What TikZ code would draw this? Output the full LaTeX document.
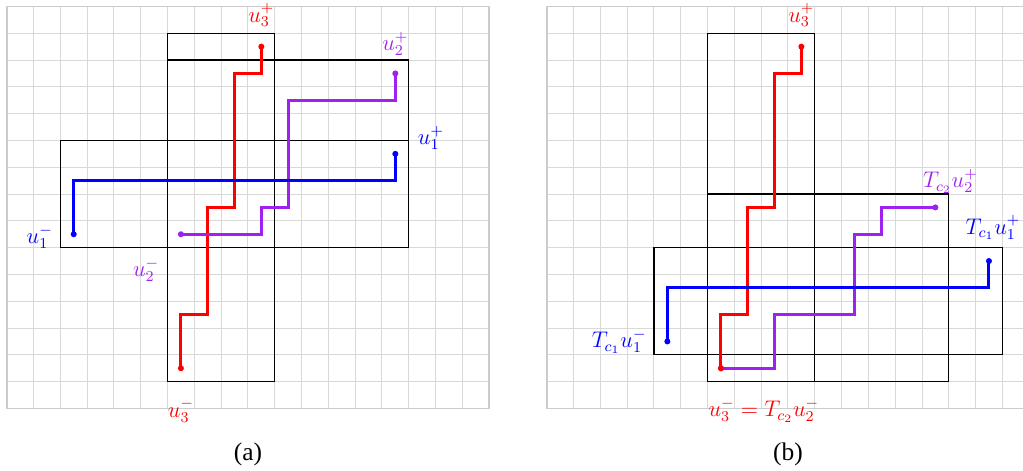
\documentclass[tikz,border=0pt]{standalone}
\usepackage[no-math]{fontspec}
\setmainfont{Liberation Serif}
\usepackage{xcolor}
\usepackage{tikz}
\definecolor{walkred}{RGB}{255,0,0}
\definecolor{walkblue}{RGB}{0,0,255}
\definecolor{walkviolet}{RGB}{160,32,240}

\begin{document}
\begin{tikzpicture}[
	x=0.5cm, y=0.5cm,
	gridline/.style={draw=gray!30, line width=0.5pt, step={(1,1)}},
	gridframe/.style={draw=gray!40, line width=0.9pt},
	box/.style={draw=black, line width=0.6pt},
	walk/.style={line width=1.6pt},
	lbl/.style={font=\fontsize{11.7}{14}\selectfont, inner sep=0pt},
	subcap/.style={font=\fontsize{13.5}{16}\selectfont, inner sep=0pt}
	]
	\useasboundingbox (-0.25,-2.30) rectangle (37.92,15.24);
	
	% Hình (a): lưới nền và ba hộp
	\draw[gridline] (0,0) grid (18,15);
	\draw[gridframe] (0,0) rectangle (18,15);
	\draw[box] (6,1) rectangle (10,14);
	\draw[box] (6,6) rectangle (15,13);
	\draw[box] (2,6) rectangle (15,10);
	
	% Các điểm đầu và cuối
	\coordinate (a1m) at (2.5,6.5);  \coordinate (a1p) at (14.5,9.5);
	\coordinate (a2m) at (6.5,6.5);  \coordinate (a2p) at (14.5,12.5);
	\coordinate (a3m) at (6.5,1.5);  \coordinate (a3p) at (9.5,13.5);
	
	% Ba đường đi
	\draw[walk, walkred] (a3m) -- ++(0,2) -- ++(1,0) -- ++(0,4) -- ++(1,0) -- ++(0,5) -- ++(1,0) -- (a3p);
	\draw[walk, walkviolet] (a2m) -- ++(3,0) -- ++(0,1) -- ++(1,0) -- ++(0,4) -- ++(4,0) -- (a2p);
	\draw[walk, walkblue] (a1m) -- ++(0,2) -- ++(12,0) -- (a1p);
	\foreach \p/\c in {a2m/walkviolet, a2p/walkviolet, a3m/walkred, a3p/walkred, a1m/walkblue, a1p/walkblue}
		\fill[\c] (\p) circle (1.6pt);
	
	% Nhãn
	\node[lbl, walkred] (la3p) at ([shift={(0,1.17)}]a3p) {$u_3^+$};
	\node[lbl, walkviolet] (la2p) at ([shift={(0,1.1)}]a2p) {$u_2^+$};
	\node[lbl, walkblue] (la1p) at ([shift={(1.33,0.6)}]a1p) {$u_1^+$};
	\node[lbl, walkblue] (la1m) at ([shift={(-1.27,-0.1)}]a1m) {$u_1^-$};
	\node[lbl, walkviolet] (la2m) at ([shift={(-1.3,-1.34)}]a2m) {$u_2^-$};
	\node[lbl, walkred] (la3m) at ([shift={(0,-1.57)}]a3m) {$u_3^-$};
	\node[subcap] (capa) at (9,-1.73) {(a)};
	
	% Hình (b): sau khi tịnh tiến
	\begin{scope}[shift={(20.15,0)}]
		\draw[gridline] (0,0) grid (18,15);
		\draw[gridframe] (0,0) rectangle (18,15);
		\draw[box] (6,1) rectangle (10,14);
		\draw[box] (6,1) rectangle (15,8);
		\draw[box] (4,2) rectangle (17,6);
		
		\coordinate (b1m) at (4.5,2.5);  \coordinate (b1p) at (16.5,5.5);
		\coordinate (b2m) at (6.5,1.5);  \coordinate (b2p) at (14.5,7.5);
		\coordinate (b3m) at (6.5,1.5);  \coordinate (b3p) at (9.5,13.5);
		
		\draw[walk, walkred] (b3m) -- ++(0,2) -- ++(1,0) -- ++(0,4) -- ++(1,0) -- ++(0,5) -- ++(1,0) -- (b3p);
		\draw[walk, walkviolet] (b2m) -- ++(2,0) -- ++(0,2) -- ++(3,0) -- ++(0,3) -- ++(1,0) -- ++(0,1) -- (b2p);
		\draw[walk, walkblue] (b1m) -- ++(0,2) -- ++(12,0) -- (b1p);
		\foreach \p/\c in {b2m/walkviolet, b2p/walkviolet, b3m/walkred, b3p/walkred, b1m/walkblue, b1p/walkblue}
			\fill[\c] (\p) circle (1.6pt);
		
		\node[lbl, walkred] (lb3p) at ([shift={(0,1.17)}]b3p) {$u_3^+$};
		\node[lbl, walkviolet] (lb2p) at ([shift={(0.56,0.98)}]b2p) {$T_{c_2}u_2^+$};
		\node[lbl, walkblue] (lb1p) at ([shift={(0.15,1.24)}]b1p) {$T_{c_1}u_1^+$};
		\node[lbl, walkblue] (lb1m) at ([shift={(-1.8,0)}]b1m) {$T_{c_1}u_1^-$};
		\node[lbl, walkred] (lb3m) at ([shift={(1.6,-1.57)}]b3m) {$u_3^-=T_{c_2}u_2^-$};
		\node[subcap] (capb) at (9,-1.73) {(b)};
	\end{scope}
\end{tikzpicture}
\end{document}
